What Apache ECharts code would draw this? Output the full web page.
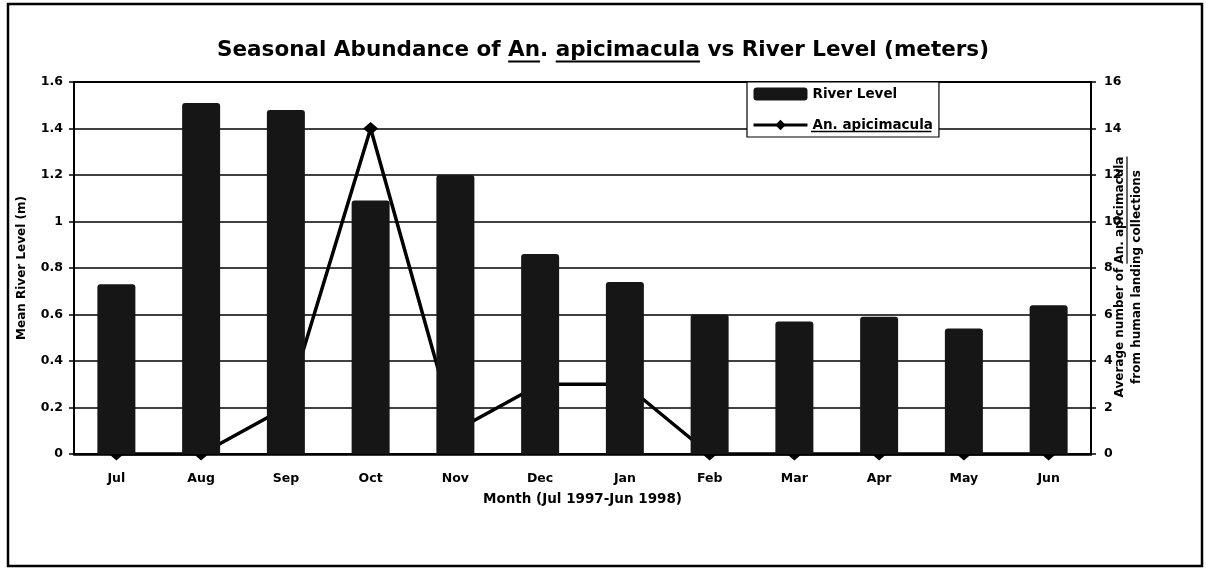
<!DOCTYPE html>
<html>
<head>
<meta charset="utf-8">
<script src="https://cdn.jsdelivr.net/npm/echarts@6/dist/echarts.min.js"></script>
<style>
  html, body { margin: 0; padding: 0; background: #fff; }
  #chart { width: 1206px; height: 571px; }
</style>
</head>
<body>
<div id="chart"></div>
<script>
// ---- data ----
const months = ['Jul', 'Aug', 'Sep', 'Oct', 'Nov', 'Dec', 'Jan', 'Feb', 'Mar', 'Apr', 'May', 'Jun'];
const riverLevel = [0.73, 1.51, 1.48, 1.09, 1.2, 0.86, 0.74, 0.6, 0.57, 0.59, 0.54, 0.64];
const apicimacula = [0, 0, 2, 14, 1, 3, 3, 0, 0, 0, 0, 0];
const leftTicks = { min: 0, max: 1.6, interval: 0.2 };
const rightTicks = { min: 0, max: 16, interval: 2 };

const FONT = '"DejaVu Sans", "Liberation Sans", Arial, sans-serif';
const titleText = 'Seasonal Abundance of An. apicimacula vs River Level (meters)';
const titleSize = 21.5;

const cv = document.createElement('canvas').getContext('2d');
function tw(str, size) {
  cv.font = 'bold ' + size + 'px ' + FONT;
  return cv.measureText(str).width;
}

// title underline positions
const W = 1206;
const tW = tw(titleText, titleSize);
const tX0 = W / 2 - tW / 2;
const tY = 34 + 5 + titleSize + 1;
const anStart = tX0 + tw('Seasonal Abundance of ', titleSize);
const anEnd = anStart + tw('An', titleSize);
const apStart = tX0 + tw('Seasonal Abundance of An. ', titleSize);
const apEnd = apStart + tw('apicimacula', titleSize);

// legend underline
const legLeft = 747, legTop = 82, legPad = 5, itemW = 54, itemH = 13, itemGap = 17, legFont = 13.5;
const legTextX = legLeft + legPad + itemW + 5;
const legRow2Y = legTop + legPad + itemH + itemGap + itemH / 2;
const legUW = tw('An. apicimacula', legFont);

// right axis name
const rn1 = 'Average number of An. apicimacula';
const rn2 = 'from human landing collections';
const rnSize = 12;
const rnCY = 277;
const rn1W = tw(rn1, rnSize);
const rnA = tw('Average number of ', rnSize);
const rnX1 = 1120, rnX2 = 1137;

const chart = echarts.init(document.getElementById('chart'), null, { renderer: 'canvas' });

const option = {
  backgroundColor: '#ffffff',
  animation: false,
  title: {
    text: titleText,
    left: 'center',
    top: 34,
    textStyle: { fontFamily: FONT, fontWeight: 'bold', fontSize: titleSize, color: '#000' }
  },
  legend: {
    orient: 'vertical',
    left: legLeft,
    top: legTop,
    padding: [legPad, 6, legPad, legPad],
    itemWidth: itemW,
    itemHeight: itemH,
    itemGap: itemGap,
    backgroundColor: '#fff',
    borderColor: '#000',
    borderWidth: 1.2,
    borderRadius: 0,
    textStyle: { fontFamily: FONT, fontWeight: 'bold', fontSize: legFont, color: '#000' },
    data: [
      { name: 'River Level', icon: 'roundRect' },
      { name: 'An. apicimacula', lineStyle: { width: 3 } }
    ]
  },
  grid: {
    left: 74, right: 115, top: 82, bottom: 117,
    show: true, borderColor: '#000', borderWidth: 2, backgroundColor: 'transparent'
  },
  xAxis: {
    type: 'category',
    data: months,
    boundaryGap: true,
    axisLine: { lineStyle: { color: '#000', width: 2.5 } },
    axisTick: { show: false },
    axisLabel: { margin: 18, fontFamily: FONT, fontWeight: 'bold', fontSize: 12.5, color: '#000' },
    name: 'Month (Jul 1997-Jun 1998)',
    nameLocation: 'middle',
    nameGap: 38,
    nameTextStyle: { fontFamily: FONT, fontWeight: 'bold', fontSize: 13.5, color: '#000' }
  },
  yAxis: [
    {
      type: 'value',
      min: leftTicks.min, max: leftTicks.max, interval: leftTicks.interval,
      position: 'left',
      axisLine: { show: true, lineStyle: { color: '#000', width: 2 } },
      axisTick: { show: true, length: 5, lineStyle: { color: '#000', width: 1.5 } },
      axisLabel: { margin: 11, fontFamily: FONT, fontWeight: 'bold', fontSize: 12.5, color: '#000',
        formatter: v => String(Math.round(v * 10) / 10) },
      splitLine: { show: true, lineStyle: { color: '#000', width: 1.5 } },
      name: 'Mean River Level (m)',
      nameLocation: 'middle',
      nameGap: 46,
      nameTextStyle: { fontFamily: FONT, fontWeight: 'bold', fontSize: 12, color: '#000' }
    },
    {
      type: 'value',
      min: rightTicks.min, max: rightTicks.max, interval: rightTicks.interval,
      position: 'right',
      axisLine: { show: true, lineStyle: { color: '#000', width: 2 } },
      axisTick: { show: true, length: 5, lineStyle: { color: '#000', width: 1.5 } },
      axisLabel: { margin: 13, fontFamily: FONT, fontWeight: 'bold', fontSize: 12.5, color: '#000' },
      splitLine: { show: false }
    }
  ],
  series: [
    {
      name: 'River Level',
      type: 'bar',
      yAxisIndex: 0,
      data: riverLevel,
      barWidth: 38,
      z: 3,
      itemStyle: { color: '#161616', borderRadius: [3, 3, 0, 0] }
    },
    {
      name: 'An. apicimacula',
      type: 'line',
      yAxisIndex: 1,
      data: apicimacula,
      z: 1,
      symbol: 'diamond',
      symbolSize: [15, 13],
      lineStyle: { color: '#000', width: 3.5 },
      itemStyle: { color: '#000' }
    }
  ],
  graphic: [
    { type: 'rect', silent: true, z: -1,
      shape: { x: 8, y: 4, width: 1194, height: 562 },
      style: { fill: 'none', stroke: '#000', lineWidth: 2.5 } },
    { type: 'line', silent: true, shape: { x1: anStart, y1: tY, x2: anEnd, y2: tY },
      style: { stroke: '#000', lineWidth: 2 } },
    { type: 'line', silent: true, shape: { x1: apStart, y1: tY, x2: apEnd, y2: tY },
      style: { stroke: '#000', lineWidth: 2 } },
    { type: 'line', silent: true, z: 100, shape: { x1: legTextX, y1: legRow2Y + 8, x2: legTextX + legUW, y2: legRow2Y + 8 },
      style: { stroke: '#000', lineWidth: 1.5 } },
    { type: 'text', silent: true, x: rnX1, y: rnCY, rotation: Math.PI / 2,
      style: { text: rn1, fontFamily: FONT, fontWeight: 'bold', fontSize: rnSize, fill: '#000',
        textAlign: 'center', textVerticalAlign: 'middle' } },
    { type: 'text', silent: true, x: rnX2, y: rnCY, rotation: Math.PI / 2,
      style: { text: rn2, fontFamily: FONT, fontWeight: 'bold', fontSize: rnSize, fill: '#000',
        textAlign: 'center', textVerticalAlign: 'middle' } },
    { type: 'line', silent: true,
      shape: { x1: rnX1 + 7, y1: rnCY + rn1W / 2 - rnA, x2: rnX1 + 7, y2: rnCY - rn1W / 2 },
      style: { stroke: '#000', lineWidth: 1.2 } }
  ]
};

chart.setOption(option);
</script>
</body>
</html>
